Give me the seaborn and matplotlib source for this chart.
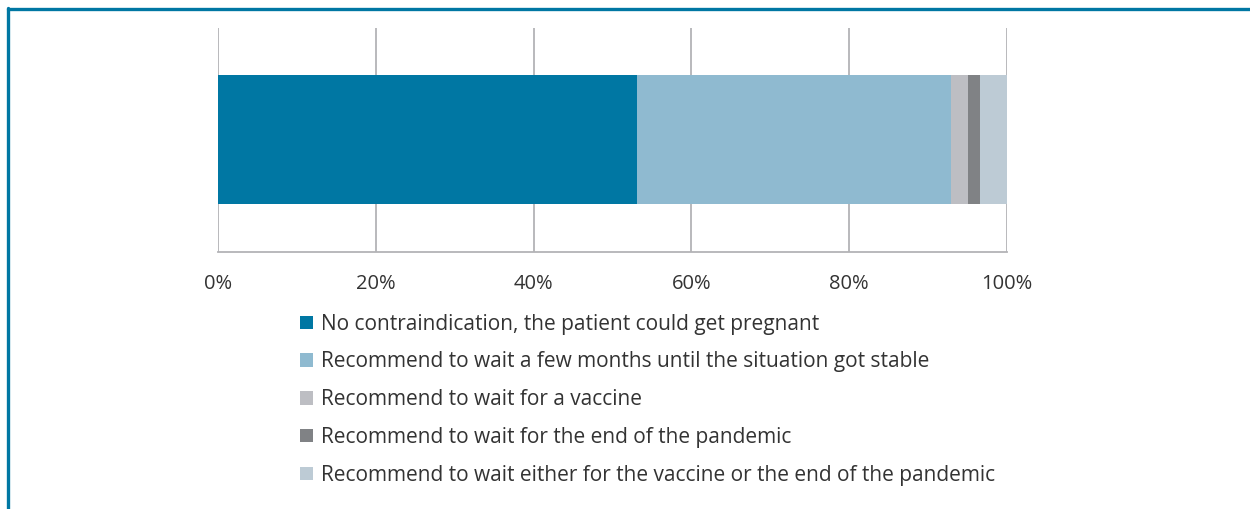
import matplotlib
matplotlib.use("Agg")
import matplotlib.pyplot as plt
from matplotlib.lines import Line2D
from matplotlib.patches import Patch
import numpy as np
import pandas as pd
import seaborn as sns

# answers, in stacking order (percent of respondents)
answers = [
    "No contraindication, the patient could get pregnant",
    "Recommend to wait a few months until the situation got stable",
    "Recommend to wait for a vaccine",
    "Recommend to wait for the end of the pandemic",
    "Recommend to wait either for the vaccine or the end of the pandemic",
]
shares = [53.1, 39.8, 2.2, 1.5, 3.4]
colors = ["#0077A3", "#8FBAD0", "#BDBEC3", "#808285", "#BDCBD5"]
ticks = [0, 20, 40, 60, 80, 100]
tick_labels = ["0%", "20%", "40%", "60%", "80%", "100%"]

sns.set_style("white")
plt.rcParams["font.family"] = ["Open Sans", "DejaVu Sans"]
text_col = "#333333"
grid_col = "#B3B3B6"

fig = plt.figure(figsize=(12.5, 5.09), dpi=100)
ax = fig.add_axes([0.1744, 0.505, 0.6312, 0.44])

df = pd.DataFrame({"answer": answers, "share": shares})
df["cum"] = df["share"].cumsum()
df["group"] = "all"

# stacked bar: draw cumulative totals from the largest down
for i in reversed(range(len(df))):
    sns.barplot(data=df.iloc[[i]], x="cum", y="group", orient="h",
                color=colors[i], width=0.576, saturation=1, linewidth=0,
                edgecolor="none", ax=ax)

ax.set_xlim(0, 100)
ax.set_ylim(0.5, -0.5)
ax.set_xticks(ticks)
ax.set_xticklabels(tick_labels, fontsize=14.5, color=text_col)
ax.set_yticks([])
ax.set_xlabel("")
ax.set_ylabel("")
ax.tick_params(axis="x", length=0, pad=16)
ax.grid(axis="x", color=grid_col, linewidth=1.3)
ax.set_axisbelow(True)
for s in ["top", "right", "left"]:
    ax.spines[s].set_visible(False)
ax.spines["bottom"].set_color(grid_col)
ax.spines["bottom"].set_linewidth(1.3)

handles = [Patch(facecolor=c, edgecolor="none") for c in colors]
fig.legend(handles, answers, loc="upper left", bbox_to_anchor=(0.24, 0.384),
           frameon=False, fontsize=15, labelcolor=text_col,
           handlelength=0.6, handleheight=0.6, handletextpad=0.4,
           labelspacing=0.81, borderaxespad=0, borderpad=0)

# blue frame on the top and left edges
fig.add_artist(Line2D([0.0064, 1.0], [0.9823, 0.9823], color="#0077A3",
                      linewidth=2.4, transform=fig.transFigure))
fig.add_artist(Line2D([0.0064, 0.0064], [0.0, 0.9835], color="#0077A3",
                      linewidth=2.4, transform=fig.transFigure))

fig.savefig("out.png", dpi=100)
